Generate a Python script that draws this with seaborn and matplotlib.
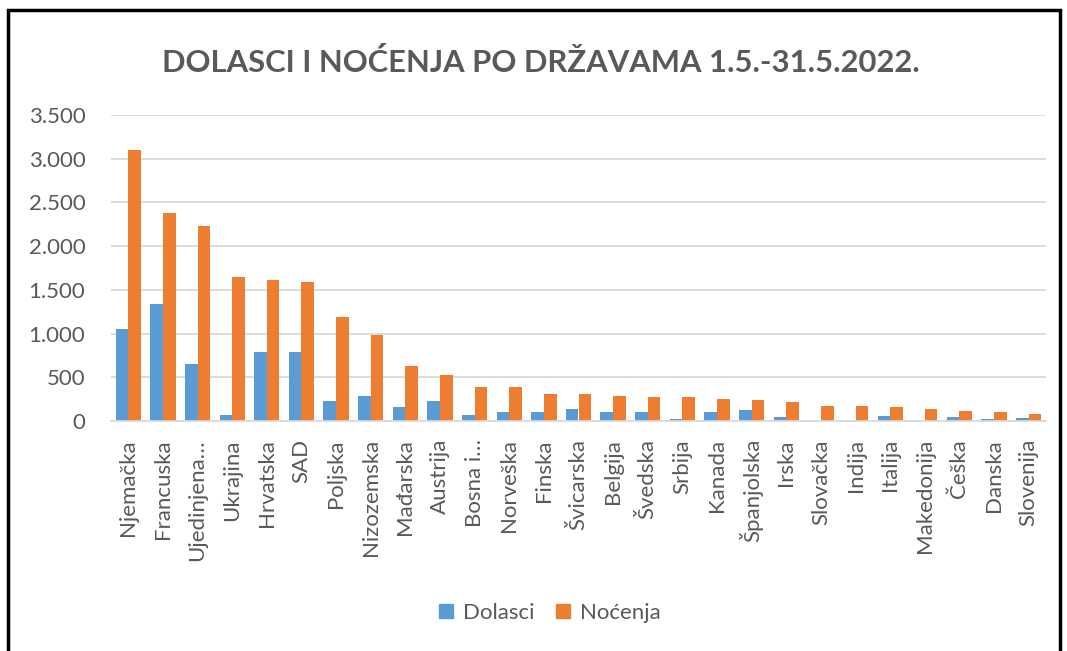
import matplotlib
matplotlib.use("Agg")
import matplotlib.pyplot as plt
import matplotlib.patches as mpatches
from matplotlib.ticker import FuncFormatter, MultipleLocator
import seaborn as sns
import pandas as pd

drzave = ["Njemačka", "Francuska", "Ujedinjena…", "Ukrajina", "Hrvatska", "SAD", "Poljska",
          "Nizozemska", "Mađarska", "Austrija", "Bosna i…", "Norveška", "Finska", "Švicarska",
          "Belgija", "Švedska", "Srbija", "Kanada", "Španjolska", "Irska", "Slovačka", "Indija",
          "Italija", "Makedonija", "Češka", "Danska", "Slovenija"]
dolasci = [1050, 1335, 650, 70, 790, 790, 230, 290, 155, 230, 70, 105, 105, 140,
           105, 105, 25, 105, 125, 50, 0, 0, 55, 0, 50, 25, 40]
nocenja = [3100, 2375, 2235, 1645, 1610, 1595, 1185, 985, 630, 530, 385, 385, 305, 305,
           290, 275, 275, 255, 235, 220, 170, 170, 155, 140, 120, 105, 85]
serije = ["Dolasci", "Noćenja"]
boje = ["#5B9BD5", "#ED7D31"]

df = pd.DataFrame({
    "Država": drzave * 2,
    "Vrijednost": dolasci + nocenja,
    "Serija": [serije[0]] * len(drzave) + [serije[1]] * len(drzave),
})

sns.set_theme(style="white")
plt.rcParams["font.family"] = ["Lato", "DejaVu Sans"]
txt = "#595959"

fig = plt.figure(figsize=(10.67, 6.51), dpi=100)
ax = fig.add_axes([111 / 1067, 1 - 421 / 651, (1046 - 111) / 1067, (421 - 115) / 651])

sns.barplot(data=df, x="Država", y="Vrijednost", hue="Serija", palette=boje,
            width=0.73, saturation=1, ax=ax, legend=False, linewidth=0)

ax.set_ylim(0, 3500)
ax.yaxis.set_major_locator(MultipleLocator(500))
ax.yaxis.set_major_formatter(FuncFormatter(lambda v, p: f"{int(v):,}".replace(",", ".")))
ax.grid(axis="y", color="#d9d9d9", linewidth=1.3)
ax.set_axisbelow(True)
for s in ["top", "right", "left"]:
    ax.spines[s].set_visible(False)
ax.spines["bottom"].set_color("#d9d9d9")
ax.spines["bottom"].set_linewidth(1.3)
ax.set_xlabel("")
ax.set_ylabel("")
ax.tick_params(axis="y", length=0, pad=18.5, labelsize=16, labelcolor=txt)
ax.tick_params(axis="x", length=0, pad=13, labelsize=16, labelcolor=txt)
plt.setp(ax.get_xticklabels(), rotation=90, ha="center", va="top")
ax.set_xlim(-0.5, len(drzave) - 0.5)

fig.text(541 / 1067, 1 - 62 / 651, "DOLASCI I NOĆENJA PO DRŽAVAMA 1.5.-31.5.2022.",
         ha="center", va="center", fontsize=22.3, fontweight="bold", color=txt)

handles = [mpatches.Patch(color=c, label=l) for c, l in zip(boje, serije)]
fig.legend(handles=handles, loc="center", bbox_to_anchor=(550 / 1067, 1 - 613 / 651),
           ncol=2, frameon=False, fontsize=16, labelcolor=txt, handlelength=0.6,
           handleheight=0.6, handletextpad=0.45, columnspacing=1.0)

fig.patches.append(mpatches.Rectangle((8 / 1067, -0.05), (1060 - 8) / 1067, 1 - 10 / 651 + 0.05,
                                      transform=fig.transFigure, fill=False,
                                      edgecolor="black", linewidth=2.5))

fig.savefig("out.png", dpi=100)
